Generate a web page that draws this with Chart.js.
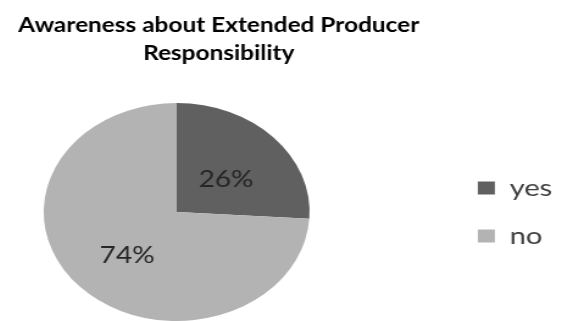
<!DOCTYPE html>
<html>
<head>
<meta charset="utf-8">
<script src="https://cdn.jsdelivr.net/npm/chart.js@4/dist/chart.umd.min.js"></script>
<style>
  html, body { margin: 0; padding: 0; background: #fff; overflow: hidden; width: 561px; height: 321px; position: relative; }
  /* the source picture is stretched sideways, so the chart is drawn narrow and widened.
     canvas starts a bit left of the window so the title centre lands where it should */
  #wrap { position: absolute; top: 0; left: -126.8px; width: 567px; height: 321px;
          transform: scaleX(1.2196); transform-origin: 0 0; }
</style>
</head>
<body>
<div id="wrap"><canvas id="awarenessChart"></canvas></div>
<script>
// chart data
var answers = ['yes', 'no'];
var percents = [26, 74];
var sliceColors = ['#606060', '#b3b3b3'];
var titleLines = ['Awareness about Extended Producer', 'Responsibility'];

// empty box on the left, pushes the pie right without moving the title
var leftSpacer = {
    id: 'leftSpacer',
    beforeInit: function (chart) {
        Chart.layouts.addBox(chart, {
            position: 'left',
            fullSize: false,
            weight: 0,
            options: {},
            width: 26,
            height: 0,
            update: function (maxWidth, maxHeight) { this.width = 26; this.height = maxHeight; },
            isHorizontal: function () { return false; },
            draw: function () {}
        });
    }
};

// writes the % value inside each slice
var sliceLabels = {
    id: 'sliceLabels',
    afterDatasetsDraw: function (chart) {
        var ctx = chart.ctx;
        var meta = chart.getDatasetMeta(0);
        ctx.save();
        ctx.font = '23px Lato';
        ctx.fillStyle = '#262626';
        ctx.textAlign = 'center';
        ctx.textBaseline = 'middle';
        for (var i = 0; i < meta.data.length; i++) {
            var arc = meta.data[i];
            var mid = (arc.startAngle + arc.endAngle) / 2;
            var r = arc.outerRadius * 0.51;
            ctx.fillText(percents[i] + '%', arc.x + Math.cos(mid) * r, arc.y + Math.sin(mid) * r + 5.5);
        }
        ctx.restore();
    }
};

var ctx = document.getElementById('awarenessChart').getContext('2d');
var awarenessChart = new Chart(ctx, {
    type: 'pie',
    data: {
        labels: answers,
        datasets: [{ data: percents, backgroundColor: sliceColors, borderWidth: 0 }]
    },
    options: {
        responsive: true,
        maintainAspectRatio: false,
        animation: false,
        layout: { padding: 0 },
        plugins: {
            title: {
                display: true,
                text: titleLines,
                color: '#000',
                font: { family: 'Lato', size: 20, weight: 'bold', lineHeight: 1.4 },
                padding: { top: 12, bottom: 35 }
            },
            legend: {
                position: 'right',
                fullSize: false,
                labels: {
                    color: '#404040',
                    font: { family: 'Lato', size: 24 },
                    boxWidth: 14,
                    boxHeight: 13,
                    padding: 24
                }
            },
            tooltip: { enabled: false }
        }
    },
    plugins: [leftSpacer, sliceLabels]
});
</script>
</body>
</html>
